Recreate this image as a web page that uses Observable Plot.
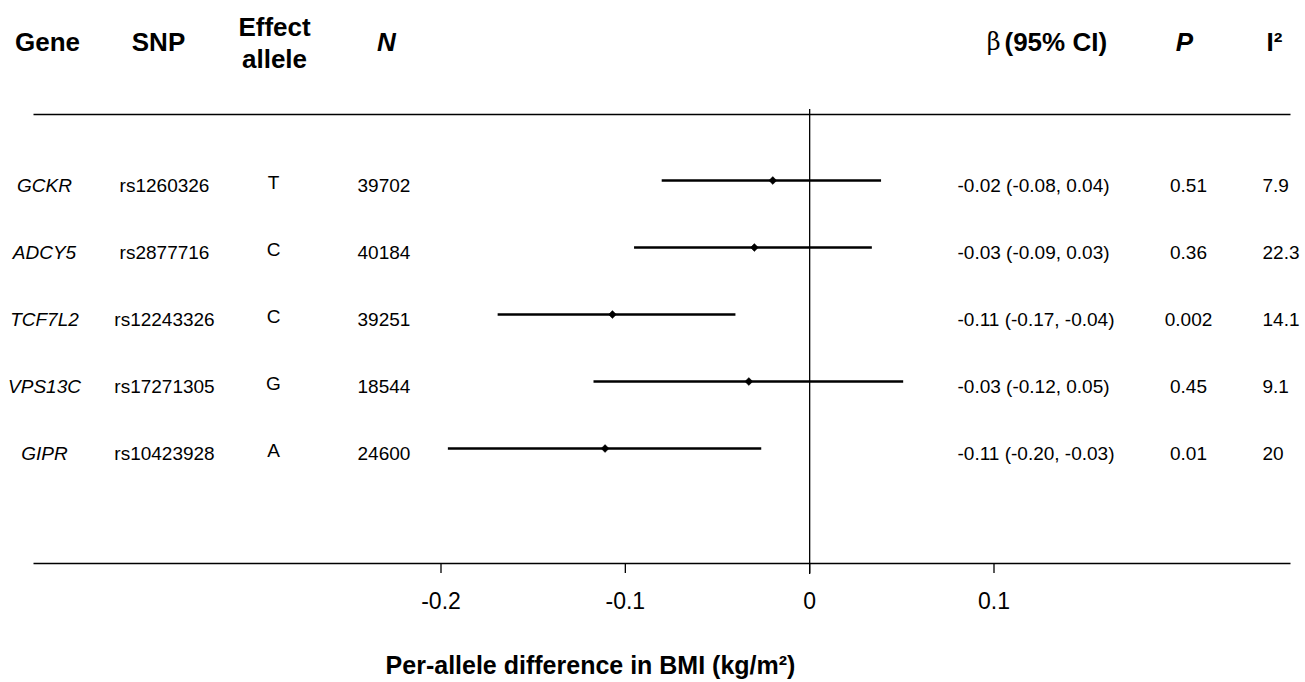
<!DOCTYPE html>
<html>
<head>
<meta charset="utf-8">
<script src="https://cdn.jsdelivr.net/npm/d3@7"></script>
<script src="https://cdn.jsdelivr.net/npm/@observablehq/plot@0.6"></script>
<style>
  html, body { margin: 0; padding: 0; background: #fff; }
  #chart svg { display: block; }
</style>
</head>
<body>
<div id="chart"></div>
<script>
// ---- data ----
const genes = ["GCKR", "ADCY5", "TCF7L2", "VPS13C", "GIPR"];
const snps = ["rs1260326", "rs2877716", "rs12243326", "rs17271305", "rs10423928"];
const alleles = ["T", "C", "C", "G", "A"];
const sampleSizes = ["39702", "40184", "39251", "18544", "24600"];
const estimates = [-0.020, -0.030, -0.107, -0.033, -0.111];
const lowers = [-0.080, -0.095, -0.169, -0.117, -0.196];
const uppers = [0.039, 0.034, -0.040, 0.051, -0.026];
const betaLabels = [
  "-0.02 (-0.08, 0.04)",
  "-0.03 (-0.09, 0.03)",
  "-0.11 (-0.17, -0.04)",
  "-0.03 (-0.12, 0.05)",
  "-0.11 (-0.20, -0.03)"
];
const pValues = ["0.51", "0.36", "0.002", "0.45", "0.01"];
const i2Values = ["7.9", "22.3", "14.1", "9.1", "20"];
const xTicks = [-0.2, -0.1, 0, 0.1];
const xLabel = "Per-allele difference in BMI (kg/m²)";

const rows = genes.map((g, i) => ({
  gene: g, snp: snps[i], allele: alleles[i], n: sampleSizes[i],
  est: estimates[i], lo: lowers[i], hi: uppers[i],
  beta: betaLabels[i], p: pValues[i], i2: i2Values[i]
}));

// ---- layout ----
const W = 1305, H = 682;
const mL = 33, mR = 15, mT = 114, mB = 119;
const col = { gene: 44, snp: 164, allele: 273, n: 357, beta: 957, p: 1188, i2: 1262 };
const FONT = "'Liberation Sans', Arial, Helvetica, sans-serif";
const dataSize = 19, headSize = 26;
const headerCy = 42;

function colText(field, x, opts = {}) {
  return Plot.text(rows, {
    y: "gene", text: field, frameAnchor: "left", dx: x - mL,
    dy: 5, lineAnchor: "middle", fontSize: dataSize, fill: "black", ...opts
  });
}
function header(txt, x, opts = {}) {
  return Plot.text([txt], {
    text: d => d, frameAnchor: "top-left", dx: x - mL, dy: headerCy - mT,
    lineAnchor: "middle", textAnchor: "middle", fontSize: headSize,
    fontWeight: "bold", fill: "black", ...opts
  });
}

const plot = Plot.plot({
  width: W, height: H,
  marginTop: mT, marginBottom: mB, marginLeft: mL, marginRight: mR,
  style: { fontFamily: FONT, fontSize: "19px", color: "black", background: "white" },
  x: { domain: [-0.2, 0.1], range: [440.5, 993.5] },
  y: { type: "point", domain: genes, range: [179, 448], padding: 0, axis: null },
  marks: [
    // top & bottom border lines (frame with left/right sides dashed away)
    Plot.frame({ stroke: "black", strokeWidth: 1.5,
      strokeDasharray: `${W - mL - mR},${H - mT - mB}` }),
    // zero reference line
    Plot.ruleX([0], { stroke: "black", strokeWidth: 1.3, insetTop: -5, insetBottom: -11 }),
    Plot.axisX({
      ticks: xTicks, tickSize: 10, tickPadding: 19, fontSize: 23,
      tickFormat: d => d === 0 ? "0" : String(d), label: null,
      stroke: "black", strokeWidth: 1.3, fill: "black"
    }),
    // confidence intervals and estimates
    Plot.ruleY(rows, { y: "gene", x1: "lo", x2: "hi", stroke: "black", strokeWidth: 2.5 }),
    Plot.dot(rows, { x: "est", y: "gene", symbol: "diamond2", r: 3.5, fill: "black", stroke: "black", strokeWidth: 0.5 }),
    // table columns
    colText("gene", col.gene, { textAnchor: "middle", fontStyle: "italic" }),
    colText("snp", col.snp, { textAnchor: "middle" }),
    colText("allele", col.allele, { textAnchor: "middle", dy: 2 }),
    colText("n", col.n, { textAnchor: "start" }),
    colText("beta", col.beta, { textAnchor: "start" }),
    colText("p", col.p, { textAnchor: "middle" }),
    colText("i2", col.i2, { textAnchor: "start" }),
    // headers
    header("Gene", 47),
    header("SNP", 158),
    header("Effect\nallele", 274, { lineHeight: 1.25, dy: 41 - mT }),
    header("N", 386, { fontStyle: "italic" }),
    header("β", 1000, { textAnchor: "end", fontWeight: "normal", fontFamily: "'DejaVu Serif', 'Liberation Serif', serif", fontSize: 24 }),
    header("(95% CI)", 1004, { textAnchor: "start" }),
    header("P", 1184, { fontStyle: "italic" }),
    header("I²", 1274),
    // axis title
    Plot.text([xLabel], {
      text: d => d, frameAnchor: "bottom-left", dx: 590 - mL, dy: 665 - (H - mB),
      lineAnchor: "middle", textAnchor: "middle", fontSize: 25, fontWeight: "bold", fill: "black"
    })
  ]
});
document.getElementById("chart").appendChild(plot);
</script>
</body>
</html>
